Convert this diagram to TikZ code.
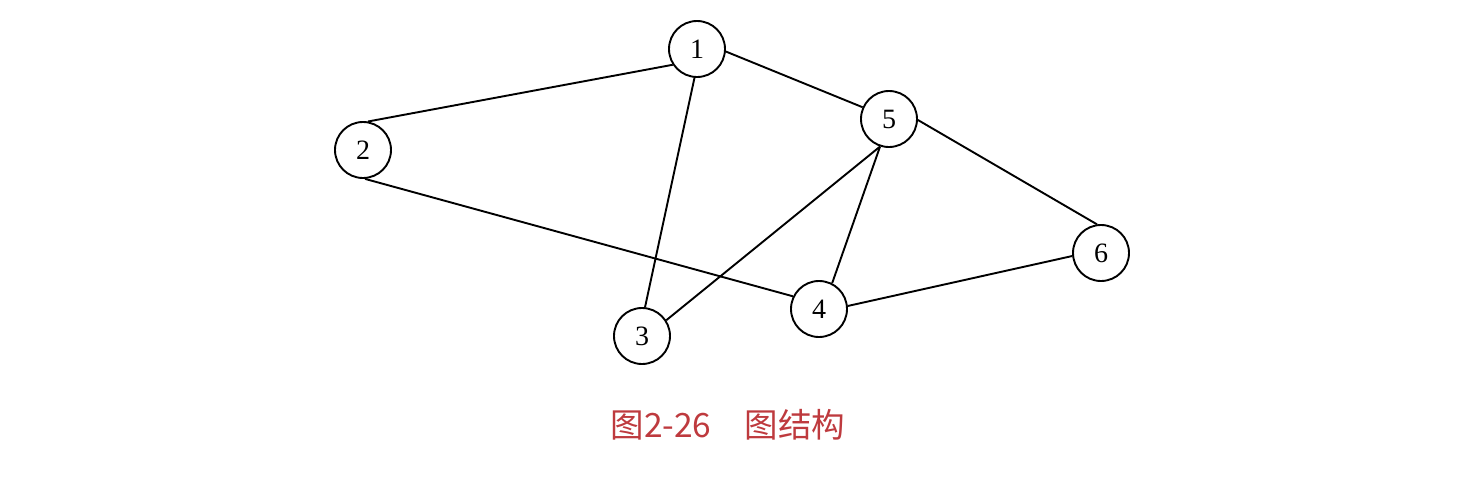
\documentclass[tikz,border=0pt]{standalone}
\usepackage{fontspec}
\setmainfont{Liberation Serif}
\newfontfamily\cjk{Noto Sans CJK SC}
\definecolor{captionred}{RGB}{190,58,62}
\begin{document}
\begin{tikzpicture}[x=1pt,y=-1pt,
  vertex/.style={circle,draw,line width=1.9pt,minimum size=56pt,inner sep=0pt,font=\fontsize{28}{28}\selectfont},
  edge/.style={line width=1.9pt}]
\useasboundingbox (0,0) rectangle (1465,477);
\node[vertex] (n1) at (697,49) {1};
\node[vertex] (n2) at (363,150) {2};
\node[vertex] (n3) at (642,336) {3};
\node[vertex] (n4) at (819,309) {4};
\node[vertex] (n5) at (889,119) {5};
\node[vertex] (n6) at (1101,253) {6};
\draw[edge] (n1.213) -- (n2.80);
\draw[edge] (n1.-5) -- (n5.156);
\draw[edge] (n1.-95) -- (n3.84);
\draw[edge] (n5.-108) -- (n3.33);
\draw[edge] (n5.-108) -- (n4.63);
\draw[edge] (n5.-2) -- (n6.98);
\draw[edge] (n4.6) -- (n6.186);
\draw[edge] (n2.-86) -- (n4.154);
\node[font=\cjk\fontsize{33.5}{33.5}\selectfont,text=captionred] (cap) at (728,425) {图2-26\hspace{1em}图结构};
\end{tikzpicture}
\end{document}
